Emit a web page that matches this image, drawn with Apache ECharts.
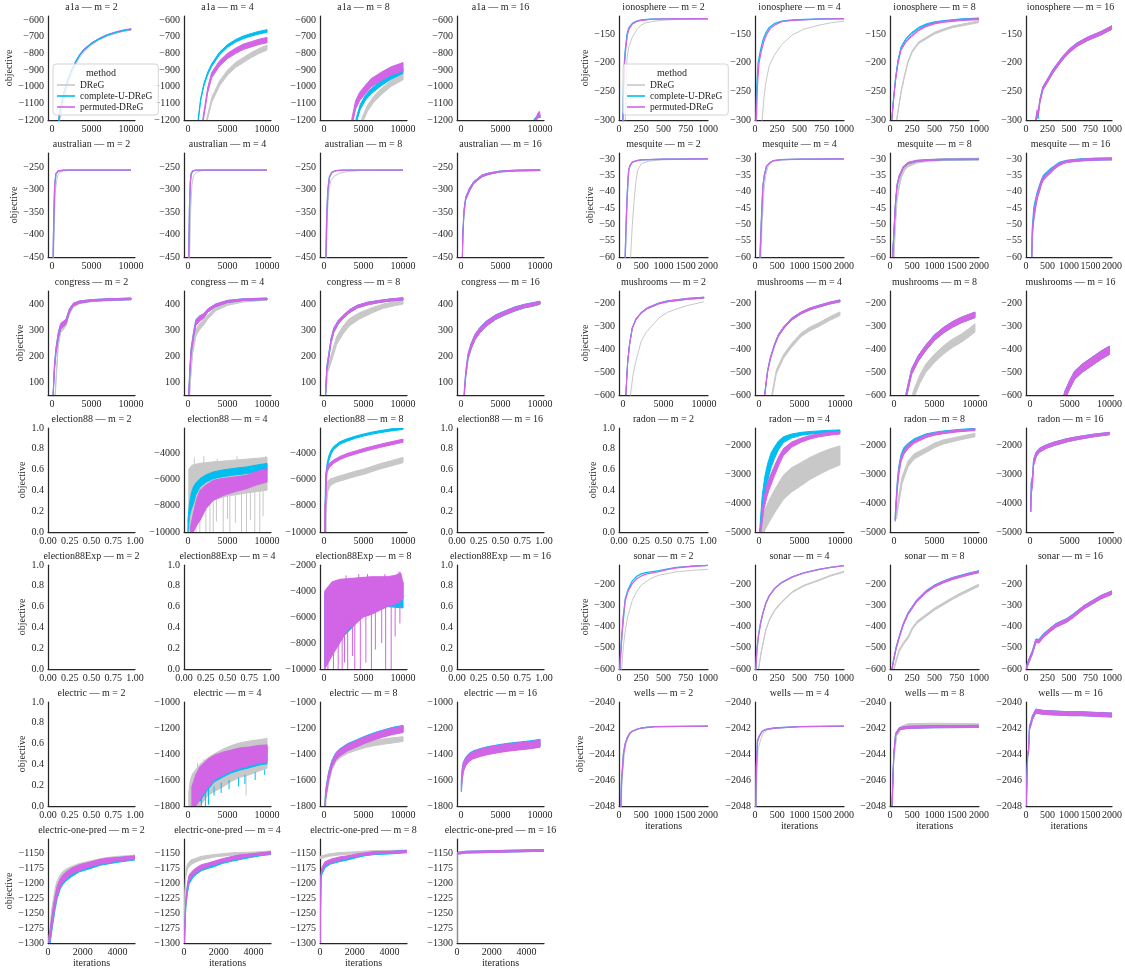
<!DOCTYPE html>
<html><head><meta charset="utf-8">
<script src="https://cdn.jsdelivr.net/npm/echarts@6/dist/echarts.min.js"></script>
<style>html,body{margin:0;padding:0;background:#fff}#c{width:1125px;height:970px}</style>
</head><body><div id="c"></div>
<script>
// ---------------- tick labels ----------------
const TX_10K = [0, 5000, 10000];
const TX_1K = [0, 250, 500, 750, 1000];
const TX_2K = [0, 500, 1000, 1500, 2000];
const TX_5K = [0, 2000, 4000];
const TX_UNIT = [0, 0.25, 0.5, 0.75, 1];
const TY_UNIT = [0, 0.2, 0.4, 0.6, 0.8, 1];
const TY_A1A = [-1200, -1100, -1000, -900, -800, -700, -600];
const TY_AUS = [-450, -400, -350, -300, -250];
const TY_CONG = [100, 200, 300, 400];
const TY_EL88 = [-10000, -8000, -6000, -4000];
const TY_EL88X = [-10000, -8000, -6000, -4000, -2000];
const TY_ELEC = [-1800, -1600, -1400, -1200, -1000];
const TY_EOP = [-1300, -1275, -1250, -1225, -1200, -1175, -1150];
const TY_ION = [-300, -250, -200, -150];
const TY_MESQ = [-60, -55, -50, -45, -40, -35, -30];
const TY_MUSH = [-600, -500, -400, -300, -200];
const TY_RADON = [-5000, -4000, -3000, -2000];
const TY_SONAR = [-600, -500, -400, -300, -200];
const TY_WELLS = [-2048, -2046, -2044, -2042, -2040];

const METHODS = ['DReG', 'complete-U-DReG', 'permuted-DReG'];
const M_VALUES = [2, 4, 8, 16];

// ---------------- series values: [iteration, objective, noise half-width] ----------------
// a1a
const a1a_2_D = [[0,-1550],[500,-1380],[1000,-1200],[1500,-1080],[2000,-990],[2500,-925],[3000,-870],[3500,-825],[4000,-795],[5000,-750],[6000,-718],[7000,-695],[8000,-678],[9000,-665],[10000,-657]];
const a1a_2_C = [[0,-1500],[500,-1330],[1000,-1150],[1500,-1040],[2000,-960],[2500,-900],[3000,-850],[3500,-810],[4000,-780],[5000,-740],[6000,-712],[7000,-690],[8000,-675],[9000,-663],[10000,-655]];
const a1a_2_P = [[0,-1500,4],[500,-1330,4],[1000,-1150,4],[1500,-1040,4],[2000,-960,4],[2500,-900,4],[3000,-850,4],[3500,-810,4],[4000,-780,4],[5000,-740,4],[6000,-712,4],[7000,-690,4],[8000,-675,4],[9000,-663,4],[10000,-655,4]];
const a1a_4_D = [[2000,-1320,12],[2400,-1200,12],[3000,-1080,14],[4000,-980,15],[5000,-915,15],[6000,-870,15],[7000,-840,15],[8000,-810,15],[9000,-785,15],[10000,-765,15]];
const a1a_4_C = [[1000,-1350,8],[1300,-1200,8],[1600,-1080,8],[2000,-990,8],[2500,-920,8],[3000,-870,8],[4000,-800,8],[5000,-755,8],[6000,-725,8],[7000,-703,8],[8000,-688,8],[9000,-675,8],[10000,-665,8]];
const a1a_4_P = [[1500,-1350,12],[1900,-1200,14],[2500,-1020,15],[3000,-930,16],[4000,-860,16],[5000,-815,16],[6000,-785,16],[7000,-760,16],[8000,-745,16],[9000,-730,16],[10000,-720,16]];
const a1a_8_D = [[4600,-1250,15],[4850,-1200,18],[5500,-1130,18],[6300,-1075,18],[7350,-1025,18],[8500,-980,18],[10000,-940,18]];
const a1a_8_C = [[3900,-1250,12],[4100,-1200,14],[4600,-1120,15],[5260,-1065,15],[6000,-1025,15],[7350,-975,15],[8500,-940,15],[10000,-905,15]];
const a1a_8_P = [[3400,-1250,20],[3600,-1200,25],[4000,-1110,25],[4500,-1060,25],[5260,-1015,25],[6000,-975,25],[7350,-935,25],[8500,-905,25],[10000,-880,25]];
const a1a_16_C = [[9000,-1230,8],[9300,-1200,8],[9600,-1185,8],[9900,-1175,8],[10000,-1180,8]];
const a1a_16_P = [[9300,-1230,12],[9500,-1200,12],[9700,-1172,12],[9900,-1160,12],[10000,-1175,10]];
// australian
const aus_2_D = [[0,-650],[200,-450],[300,-380],[450,-300],[700,-270],[1000,-262],[1500,-259],[2500,-257],[10000,-257]];
const aus_2_C = [[0,-600],[150,-450],[250,-350],[350,-290],[500,-265],[800,-259],[1500,-257],[10000,-257]];
const aus_2_P = [[0,-600],[150,-450],[250,-350],[350,-290],[500,-265],[800,-259],[1500,-257],[10000,-257]];
const aus_4_D = [[0,-700],[200,-450],[350,-340],[500,-290],[700,-270],[1000,-263],[1500,-259],[2500,-257],[10000,-257]];
const aus_4_C = [[0,-600],[100,-450],[200,-340],[300,-285],[400,-266],[600,-259],[1000,-257],[10000,-257]];
const aus_4_P = [[0,-600],[100,-450],[200,-340],[300,-285],[400,-266],[600,-259],[1000,-257],[10000,-257]];
const aus_8_D = [[200,-600],[300,-450],[450,-350],[630,-300],[900,-280],[1300,-270],[2000,-264],[3000,-260],[4500,-258],[10000,-257]];
const aus_8_C = [[100,-600],[250,-450],[350,-360],[500,-300],[700,-272],[1000,-262],[1500,-258],[2500,-257],[10000,-257]];
const aus_8_P = [[100,-600],[250,-450],[350,-360],[500,-300],[700,-272],[1000,-262],[1500,-258],[2500,-257],[10000,-257]];
const aus_16_C = [[100,-520,4],[180,-450,4],[240,-400,4],[380,-350,4],[600,-320,3],[1090,-300,3],[1600,-285,2],[2650,-270,2],[3500,-265,1.5],[5000,-260,1],[7000,-258,1],[10000,-257,1]];
const aus_16_P = [[100,-520,4],[180,-450,4],[240,-400,4],[380,-350,4],[600,-320,3],[1090,-300,3],[1600,-285,2],[2650,-270,2],[3500,-265,1.5],[5000,-260,1],[7000,-258,1],[10000,-257,1]];
// congress
const cong_2_D = [[300,0,5],[600,150,8],[800,250,10],[1100,300,10],[1500,315,10],[1800,325,8],[2200,365,6],[2700,393,5],[3500,405,4],[5000,412,3],[7000,416,3],[10000,419,3]];
const cong_2_C = [[0,-50,5],[300,150,8],[500,220,10],[800,280,10],[1100,315,10],[1500,325,10],[1800,335,8],[2200,375,6],[2700,398,5],[3500,408,4],[5000,414,3],[7000,417,3],[10000,420,3]];
const cong_2_P = [[0,-50,5],[300,150,8],[500,220,10],[800,280,10],[1100,315,10],[1500,325,10],[1800,335,8],[2200,375,6],[2700,398,5],[3500,408,4],[5000,414,3],[7000,417,3],[10000,420,3]];
const cong_4_D = [[200,50,5],[400,150,10],[600,220,12],[1000,290,12],[1500,315,12],[2000,330,10],[2500,350,8],[3500,380,6],[5000,400,5],[7000,412,4],[10000,418,3]];
const cong_4_C = [[100,50,5],[250,150,8],[400,220,10],[700,280,10],[1000,330,10],[1500,345,10],[2000,355,8],[2500,375,6],[3500,395,5],[5000,410,4],[7000,417,3],[10000,420,3]];
const cong_4_P = [[100,50,5],[250,150,8],[400,220,10],[700,280,10],[1000,330,10],[1500,345,10],[2000,355,8],[2500,375,6],[3500,395,5],[5000,410,4],[7000,417,3],[10000,420,3]];
const cong_8_D = [[200,50,5],[500,150,10],[1000,200,15],[1600,260,15],[2400,300,15],[3200,330,14],[4500,355,12],[6000,375,10],[7500,392,8],[9000,402,8],[10000,408,8]];
const cong_8_C = [[200,50,5],[350,150,8],[600,200,8],[900,260,8],[1250,300,8],[1800,330,7],[2400,350,6],[3200,372,6],[4200,390,5],[5500,402,5],[7000,410,4],[8500,416,4],[10000,420,4]];
const cong_8_P = [[200,50,5],[350,150,8],[600,200,8],[900,260,8],[1250,300,8],[1800,330,7],[2400,350,6],[3200,372,6],[4200,390,5],[5500,402,5],[7000,410,4],[8500,416,4],[10000,420,4]];
const cong_16_C = [[400,50,8],[600,130,10],[900,200,10],[1300,240,10],[1800,275,10],[2400,300,10],[3200,325,10],[4400,350,9],[5500,365,8],[6700,380,8],[8000,392,7],[9000,398,7],[10000,405,6]];
const cong_16_P = [[400,50,8],[600,130,10],[900,200,10],[1300,240,10],[1800,275,10],[2400,300,10],[3200,325,9],[4400,350,8],[5500,365,7],[6700,380,7],[8000,392,6],[9000,398,6],[10000,405,5]];
// election88
const el88_4_D = [[100,-7600,2400],[500,-7000,2100],[1500,-6400,1650],[3000,-6100,1450],[5000,-5900,1350],[7000,-5750,1300],[10000,-5550,1250]];
const el88_4_D_spikes = [[470,-7000,-10000],[1000,-7000,-10000],[1500,-7000,-10000],[2270,-7000,-10000],[2780,-7000,-10000],[3200,-7000,-10000],[3600,-7000,-9200],[4460,-7000,-10000],[5000,-7000,-9000],[5300,-7000,-10000],[6000,-7000,-9300],[6770,-7000,-10000],[7400,-7000,-10000],[7900,-7000,-9100],[8450,-6800,-10000],[9080,-6800,-10000],[9500,-6800,-8800],[800,-5500,-4300],[2000,-5000,-4200],[3700,-5000,-4400],[6200,-4800,-4200],[9800,-4700,-4200]];
const el88_4_C = [[0,-9500,500],[200,-8300,500],[400,-7700,600],[680,-7200,640],[1000,-6700,450],[1516,-6240,320],[2300,-5900,280],[3196,-5665,255],[4500,-5500,255],[6000,-5380,255],[7396,-5280,255],[8600,-5150,260],[10000,-5020,260]];
const el88_4_P = [[300,-10000,300],[680,-9300,700],[1100,-8500,1000],[1516,-7975,1150],[2300,-7300,900],[3196,-6820,770],[4500,-6550,650],[6000,-6350,560],[7396,-6180,510],[8600,-5900,515],[10000,-5665,515]];
const el88_8_D = [[250,-9000,1000],[300,-7500,500],[500,-6500,400],[800,-6200,250],[1500,-6000,200],[2900,-5750,200],[4000,-5550,200],[5000,-5400,200],[6000,-5200,200],[7000,-5000,200],[8500,-4750,200],[10000,-4500,200]];
const el88_8_C = [[150,-9000,1000],[200,-6000,300],[400,-5000,250],[600,-4400,200],[900,-3900,150],[1200,-3600,120],[2000,-3200,100],[2900,-2970,90],[4000,-2750,80],[5000,-2590,80],[6000,-2450,80],[7000,-2340,80],[8500,-2190,80],[10000,-2080,80]];
const el88_8_P = [[100,-9000,1000],[250,-7500,500],[300,-6000,400],[400,-5200,200],[700,-4900,150],[1200,-4630,130],[2000,-4350,120],[2900,-4120,120],[4000,-3920,120],[5000,-3740,120],[6000,-3580,120],[7000,-3430,120],[8500,-3220,120],[10000,-3020,120]];
// election88Exp
const el88x_8_C = [[100,-7000,2800],[2000,-5500,2300],[5000,-4500,1400],[8000,-4100,1100],[10000,-4300,1000]];
const el88x_8_P = [[100,-7000,3000],[1000,-6150,2850],[2000,-5550,2450],[3000,-5025,1975],[4000,-4750,1750],[5000,-4475,1525],[6000,-4350,1450],[7000,-4200,1300],[8000,-4050,1150],[9000,-3900,1100],[9700,-3700,1100],[10000,-4000,600]];
const el88x_8_P_spikes = [[500,-6000,-10000],[1200,-6000,-10000],[1800,-6000,-10000],[2300,-6000,-10000],[2600,-6000,-9500],[3000,-6000,-10000],[3600,-6000,-9000],[3900,-6000,-10000],[4600,-5500,-10000],[5300,-5500,-9500],[6000,-5500,-10000],[6500,-5500,-8500],[7300,-5000,-8000],[7800,-5000,-10000],[8500,-5000,-10000],[9000,-5000,-7500],[9600,-5000,-6500],[2800,-3500,-2800],[4400,-3300,-2700],[5500,-3200,-2700],[7700,-3200,-2700],[9500,-3000,-2500]];
// electric
const elec_4_D = [[100,-1750,50],[300,-1700,100],[600,-1675,125],[1500,-1640,160],[2500,-1575,145],[3300,-1545,145],[4500,-1505,145],[5500,-1472,138],[6500,-1448,133],[7800,-1430,130],[9000,-1410,120],[10000,-1395,115]];
const elec_4_D_spikes = [[1200,-1600,-1470],[2000,-1560,-1440],[700,-1700,-1580],[7350,-1550,-1720]];
const elec_4_C = [[1500,-1640,125],[2500,-1565,110],[3300,-1520,95],[4500,-1487,88],[5500,-1465,80],[6500,-1447,78],[7800,-1433,72],[9000,-1417,68],[10000,-1410,65]];
const elec_4_C_spikes = [[1700,-1650,-1800],[2200,-1650,-1800],[2600,-1650,-1790],[3300,-1650,-1720],[4200,-1620,-1700],[5200,-1600,-1670],[6400,-1580,-1650],[7200,-1560,-1630],[8500,-1540,-1600],[9700,-1520,-1560]];
const elec_4_P = [[500,-1725,75],[1000,-1680,120],[1500,-1625,125],[2500,-1550,110],[3300,-1505,95],[4500,-1472,88],[5500,-1450,80],[6500,-1432,78],[7800,-1418,72],[9000,-1402,68],[10000,-1395,65]];
const elec_8_D = [[100,-1850,30],[300,-1700,30],[600,-1600,30],[1000,-1500,25],[1500,-1440,22],[2000,-1410,20],[3000,-1375,20],[4170,-1350,20],[5300,-1330,20],[6430,-1315,20],[7500,-1305,20],[8700,-1295,20],[10000,-1285,18]];
const elec_8_C = [[100,-1850,30],[200,-1720,30],[350,-1655,30],[600,-1565,28],[1000,-1475,25],[1500,-1415,25],[2000,-1385,25],[3000,-1345,25],[4170,-1315,25],[5300,-1285,25],[6430,-1260,25],[7500,-1240,25],[8700,-1220,25],[10000,-1205,25]];
const elec_8_P = [[100,-1850,30],[200,-1720,30],[350,-1660,30],[600,-1570,28],[1000,-1480,25],[1500,-1420,25],[2000,-1390,25],[3000,-1350,25],[4170,-1320,25],[5300,-1290,25],[6430,-1265,25],[7500,-1245,25],[8700,-1225,25],[10000,-1210,25]];
const elec_16_C = [[50,-1650,40],[150,-1560,40],[300,-1500,35],[600,-1455,30],[1000,-1425,28],[1500,-1405,28],[2500,-1385,28],[3500,-1370,28],[4900,-1355,28],[6000,-1345,28],[7500,-1335,28],[9000,-1325,28],[10000,-1315,28]];
const elec_16_P = [[50,-1640,40],[150,-1560,40],[300,-1500,35],[600,-1460,30],[1000,-1430,28],[1500,-1410,28],[2500,-1390,28],[3500,-1375,28],[4900,-1360,28],[6000,-1350,28],[7500,-1340,28],[9000,-1330,28],[10000,-1320,28]];
// electric-one-pred
const eop_2_D = [[50,-1300,6],[150,-1270,8],[220,-1250,8],[320,-1232,8],[420,-1215,8],[525,-1203,7],[700,-1192,6],[830,-1187,6],[1000,-1183,6],[1345,-1177,5],[1800,-1172,5],[2370,-1167,4],[3000,-1163,4],[3400,-1161,4],[4000,-1159,4],[5000,-1156,3]];
const eop_2_C = [[50,-1310,8],[150,-1285,10],[220,-1270,10],[320,-1250,10],[420,-1233,9],[525,-1218,8],[700,-1203,7],[830,-1196,7],[1000,-1191,6],[1345,-1183,6],[1800,-1176,5],[2370,-1171,5],[3000,-1166,4],[3400,-1164,4],[4000,-1161,4],[5000,-1158,3]];
const eop_2_P = [[50,-1300,8],[150,-1280,9],[220,-1265,9],[320,-1245,9],[420,-1228,8],[525,-1213,8],[700,-1200,7],[830,-1193,6],[1000,-1188,6],[1345,-1180,5],[1800,-1174,5],[2370,-1169,4],[3000,-1164,4],[3400,-1162,4],[4000,-1160,3],[5000,-1157,3]];
const eop_4_D = [[10,-1300,3],[50,-1220,5],[100,-1185,5],[200,-1172,4],[400,-1165,4],[713,-1161,3],[1000,-1158,3],[1750,-1154,2],[2800,-1151,2],[3816,-1150,2],[5000,-1148,2]];
const eop_4_C = [[20,-1310,4],[60,-1265,6],[100,-1237,6],[200,-1210,6],[300,-1195,6],[500,-1186,5],[713,-1180,5],[1000,-1175,4],[1400,-1171,4],[1750,-1168,4],[2200,-1164,3],[2780,-1160,3],[3300,-1157,3],[3816,-1154,3],[4400,-1152,2],[5000,-1150,2]];
const eop_4_P = [[20,-1300,4],[60,-1260,5],[100,-1232,5],[200,-1205,5],[300,-1191,5],[500,-1183,4],[713,-1178,4],[1000,-1173,4],[1400,-1169,3],[1750,-1166,3],[2200,-1162,3],[2780,-1158,3],[3300,-1155,3],[3816,-1153,2],[4400,-1151,2],[5000,-1149,2]];
const eop_8_D = [[0,-1157,2],[500,-1153,2],[1000,-1151,2],[2000,-1149,1.5],[3000,-1147,1.5],[5000,-1146,1.5]];
const eop_8_C = [[0,-1320,1],[50,-1195,4],[100,-1182,4],[287,-1170,4],[600,-1165,3],[1110,-1161,3],[1600,-1158,3],[2126,-1155,2],[2600,-1152,2],[3160,-1150,2],[4000,-1149,2],[5000,-1147,2]];
const eop_8_P = [[0,-1320,1],[50,-1190,4],[100,-1178,4],[287,-1167,3],[600,-1163,3],[1110,-1159,3],[1600,-1156,2],[2126,-1153,2],[2600,-1151,2],[3160,-1149,2],[4000,-1148,1.5],[5000,-1147,1.5]];
const eop_16_C = [[0,-1320,1],[20,-1150,1.5],[500,-1148,1.5],[2000,-1147,1.5],[5000,-1145,1.5]];
const eop_16_P = [[0,-1320,1],[20,-1150,1.5],[500,-1148,1.5],[2000,-1147,1.5],[5000,-1145,1.5]];
// ionosphere
const ion_2_D = [[0,-520],[50,-380],[70,-300],[80,-240],[90,-193],[110,-172],[150,-155],[200,-142],[247,-134],[300,-130],[400,-127],[450,-126],[650,-124],[1000,-123]];
const ion_2_C = [[0,-420],[30,-330],[42,-300],[50,-240],[60,-200],[70,-178],[90,-150],[110,-139],[150,-131],[200,-127],[250,-125],[350,-123.5],[500,-123],[1000,-122.7]];
const ion_2_P = [[0,-430],[32,-330],[45,-300],[53,-240],[63,-200],[74,-178],[95,-150],[115,-140],[150,-132],[200,-127.5],[250,-125.5],[350,-123.8],[500,-123.2],[1000,-122.8]];
const ion_4_D = [[50,-380],[80,-300],[100,-262],[120,-236],[160,-205],[220,-186],[300,-168],[420,-151],[550,-141],[719,-134],[850,-130],[1000,-127]];
const ion_4_C = [[0,-400],[10,-300],[20,-240],[35,-200],[61,-178],[90,-160],[120,-148],[160,-138],[220,-131],[300,-127],[420,-125],[720,-123],[1000,-122.5]];
const ion_4_P = [[0,-420],[15,-300],[27,-240],[45,-200],[70,-180],[100,-162],[130,-150],[170,-140],[230,-133],[300,-128],[420,-125.5],[720,-123.3],[1000,-122.8]];
const ion_8_D = [[60,-320,1.5],[75,-300,1.5],[100,-275,1.5],[124,-251,1.5],[160,-225,1.5],[203,-198,1.5],[250,-180,1.5],[320,-165,1.5],[404,-157,1.5],[500,-148,1.5],[604,-142,1.5],[700,-137,1.5],[803,-134,1.5],[900,-131,1.5],[1000,-128,1.5]];
const ion_8_C = [[0,-380,1],[20,-300,1],[40,-262,1],[63,-226,1],[90,-196,1],[124,-173,1],[180,-158,1],[243,-148,1],[320,-139,1],[404,-133,1],[500,-129,1],[604,-127,1],[800,-124,1],[1000,-122.5,1]];
const ion_8_P = [[0,-380,1],[20,-300,1],[40,-265,1],[63,-230,1],[90,-200,1],[124,-177,1],[180,-163,1],[243,-153,1],[320,-143,1],[404,-136,1],[500,-131,1],[604,-128,1],[800,-125,1],[1000,-123.5,1]];
const ion_16_C = [[100,-320,3],[115,-300,3],[130,-288,3],[140,-295,3],[160,-268,3],[195,-245,3],[254,-230,3],[314,-214,3],[374,-202,3],[435,-190,3],[515,-177,3],[594,-168,3],[715,-158,3],[874,-148,3],[1000,-138,3]];
const ion_16_P = [[100,-320,3],[115,-300,3],[130,-285,3],[140,-290,3],[160,-268,3],[195,-245,3],[254,-230,3],[314,-215,3],[374,-202,3],[435,-190,3],[515,-178,3],[594,-168,3],[715,-158,3],[874,-148,3],[1000,-138,3]];
// mesquite
const mesq_2_D = [[200,-75],[260,-60],[300,-50],[337,-43],[380,-37],[418,-33.5],[500,-31.5],[659,-30.7],[978,-30.3],[1500,-30.1],[2000,-30]];
const mesq_2_C = [[100,-75],[139,-60],[160,-50],[180,-42.6],[200,-37],[218,-33.4],[250,-32],[299,-31],[400,-30.5],[500,-30.3],[1000,-30.1],[2000,-30]];
const mesq_2_P = [[100,-75],[139,-60],[160,-50],[180,-42.6],[200,-37],[218,-33.4],[250,-32],[299,-31],[400,-30.5],[500,-30.3],[1000,-30.1],[2000,-30]];
const mesq_4_D = [[100,-75],[130,-60],[160,-50],[200,-40],[240,-35],[300,-32],[400,-30.8],[600,-30.3],[1000,-30.2],[2000,-30.1]];
const mesq_4_C = [[80,-75],[112,-60],[140,-50],[177,-38.4],[210,-35],[258,-32.3],[330,-31.2],[418,-30.5],[600,-30.2],[1000,-30.1],[2000,-30]];
const mesq_4_P = [[80,-75],[112,-60],[140,-50],[177,-38.4],[210,-35],[258,-32.3],[330,-31.2],[418,-30.5],[600,-30.2],[1000,-30.1],[2000,-30]];
const mesq_8_D = [[60,-75,0.5],[90,-60,0.5],[120,-50,0.8],[160,-42,0.8],[207,-38,0.8],[260,-35,0.6],[330,-33,0.5],[407,-32,0.4],[600,-31,0.3],[807,-30.5,0.3],[1200,-30.2,0.3],[2000,-30.1,0.3]];
const mesq_8_C = [[40,-75,0.3],[60,-60,0.3],[85,-53,0.3],[126,-43,0.3],[160,-38,0.3],[207,-35.4,0.3],[300,-32.5,0.2],[407,-31.3,0.2],[600,-30.6,0.15],[807,-30.4,0.15],[1200,-30.2,0.1],[2000,-30.1,0.1]];
const mesq_8_P = [[40,-75,0.3],[60,-60,0.3],[85,-53,0.3],[126,-43,0.3],[160,-38,0.3],[207,-35.4,0.3],[300,-32.5,0.2],[407,-31.3,0.2],[600,-30.6,0.15],[807,-30.4,0.15],[1200,-30.2,0.1],[2000,-30.1,0.1]];
const mesq_16_C = [[100,-75,1],[135,-60,1],[146,-52,1.2],[180,-46,1.2],[225,-43,1],[270,-40.5,0.8],[320,-38.5,0.8],[360,-37,0.7],[405,-35.5,0.6],[480,-34.5,0.5],[560,-33.5,0.5],[660,-32.5,0.4],[760,-31.5,0.4],[860,-31,0.3],[960,-30.7,0.3],[1160,-30.4,0.3],[1360,-30.2,0.3],[1600,-30.1,0.3],[2000,-30,0.3]];
const mesq_16_P = [[100,-75,1],[135,-60,1],[146,-53,1.2],[180,-48,1.2],[225,-44,1],[270,-41,0.8],[320,-39,0.8],[360,-37,0.7],[405,-36,0.6],[480,-35,0.5],[560,-34,0.5],[660,-32.8,0.4],[760,-31.8,0.4],[860,-31.2,0.3],[960,-30.8,0.3],[1160,-30.5,0.3],[1360,-30.3,0.3],[1600,-30.1,0.3],[2000,-30,0.3]];
// mushrooms
const mush_2_D = [[700,-680],[921,-600],[1200,-520],[1576,-454],[2244,-366],[2800,-330],[3344,-308],[4444,-264],[5500,-240],[6644,-225],[8000,-210],[10000,-194]];
const mush_2_C = [[250,-650,2],[353,-600,2],[450,-530,2],[575,-455,2],[800,-380,2],[1144,-308,2],[1600,-270,2],[2244,-242,2],[3000,-222,2],[4444,-201,2],[5500,-192,2],[6644,-187,2],[8000,-181,2],[10000,-176,2]];
const mush_2_P = [[250,-650,2],[353,-600,2],[450,-530,2],[575,-455,2],[800,-380,2],[1144,-308,2],[1600,-270,2],[2244,-242,2],[3000,-222,2],[4444,-201,2],[5500,-192,2],[6644,-187,2],[8000,-181,2],[10000,-176,2]];
const mush_4_D = [[1400,-650,8],[1614,-600,8],[2145,-498,8],[3023,-432,8],[4000,-385,8],[5223,-337,8],[6300,-312,8],[7423,-293,8],[8700,-268,8],[10000,-246,8]];
const mush_4_C = [[500,-680,4],[699,-600,4],[1045,-498,4],[1400,-440,4],[1923,-381,4],[2400,-340,4],[3023,-308,4],[4000,-270,4],[5223,-242,4],[6300,-225,4],[7423,-213,4],[8700,-200,4],[10000,-190,4]];
const mush_4_P = [[500,-680,4],[699,-600,4],[1045,-498,4],[1400,-440,4],[1923,-381,4],[2400,-340,4],[3023,-308,4],[4000,-270,4],[5223,-242,4],[6300,-225,4],[7423,-213,4],[8700,-200,4],[10000,-190,4]];
const mush_8_D = [[2100,-650,18],[2392,-600,18],[3200,-530,18],[3937,-483,18],[5000,-440,18],[6137,-403,18],[7200,-375,18],[8337,-352,18],[9200,-330,18],[10000,-308,18]];
const mush_8_C = [[1300,-650,12],[1515,-600,12],[2170,-498,12],[3000,-440,12],[3937,-394,12],[5000,-350,12],[6137,-317,12],[7200,-293,12],[8337,-273,12],[10000,-251,12]];
const mush_8_P = [[1300,-650,12],[1515,-600,12],[2170,-498,12],[3000,-440,12],[3937,-394,12],[5000,-350,12],[6137,-317,12],[7200,-293,12],[8337,-273,12],[10000,-251,12]];
const mush_16_C = [[4000,-650,18],[4407,-600,18],[5000,-555,18],[5593,-515,18],[6500,-485,18],[7793,-454,18],[9000,-425,18],[10000,-405,18]];
const mush_16_P = [[4000,-650,18],[4407,-600,18],[5000,-555,18],[5593,-515,18],[6500,-485,18],[7793,-454,18],[9000,-425,18],[10000,-405,18]];
// radon
const rad_4_D = [[300,-5200,300],[700,-4600,350],[1267,-4270,380],[2000,-3900,400],[3023,-3450,420],[4000,-3200,420],[5223,-2990,400],[6300,-2800,380],[7423,-2640,370],[8700,-2480,350],[10000,-2350,330]];
const rad_4_C = [[0,-5200,100],[100,-5000,150],[390,-4000,250],[700,-3400,300],[1045,-2950,300],[1500,-2500,250],[1923,-2250,200],[2400,-2000,150],[3023,-1800,100],[4000,-1680,70],[5223,-1600,50],[6300,-1565,45],[7423,-1540,40],[8700,-1520,40],[10000,-1505,40]];
const rad_4_P = [[100,-5200,100],[170,-5000,150],[612,-4000,200],[1000,-3550,200],[1267,-3330,190],[1923,-2870,170],[2500,-2500,150],[3023,-2230,120],[4000,-1980,90],[5223,-1820,70],[6300,-1720,60],[7423,-1650,55],[8700,-1600,50],[10000,-1565,45]];
const rad_8_D = [[300,-4400,150],[637,-3800,150],[1000,-3200,120],[1737,-2640,100],[2500,-2380,90],[3937,-2170,80],[5000,-2000,80],[6137,-1880,70],[8000,-1760,60],[10000,-1645,60]];
const rad_8_C = [[150,-4500,80],[200,-4200,100],[415,-3300,120],[600,-2800,100],[860,-2400,80],[1200,-2150,70],[1737,-1990,60],[2500,-1820,50],[3937,-1645,40],[5000,-1580,35],[6137,-1530,30],[8000,-1480,30],[10000,-1440,30]];
const rad_8_P = [[150,-4550,80],[200,-4300,100],[415,-3400,120],[600,-2900,100],[860,-2500,80],[1200,-2250,70],[1737,-2050,60],[2500,-1880,50],[3937,-1690,45],[5000,-1610,40],[6137,-1560,35],[8000,-1500,30],[10000,-1460,30]];
const rad_16_C = [[100,-4250,50],[150,-3500,200],[316,-3220,150],[450,-2600,100],[538,-2520,100],[800,-2300,80],[1193,-2170,70],[2000,-2050,60],[3000,-1950,60],[4716,-1820,55],[6000,-1750,50],[8000,-1660,45],[10000,-1590,40]];
const rad_16_P = [[100,-4250,50],[150,-3500,200],[316,-3220,150],[450,-2600,100],[538,-2520,100],[800,-2300,80],[1193,-2170,70],[2000,-2050,60],[3000,-1950,60],[4716,-1820,55],[6000,-1750,50],[8000,-1660,45],[10000,-1590,40]];
// sonar
const son_2_D = [[10,-700],[29,-600],[50,-490],[70,-420],[100,-350],[149,-277],[200,-235],[249,-205],[350,-175],[449,-158],[550,-150],[649,-142],[800,-136],[1000,-130]];
const son_2_C = [[0,-700],[9,-600],[29,-460],[70,-270],[100,-228],[149,-185],[200,-163],[249,-152],[300,-146],[449,-136],[550,-128],[649,-121],[800,-116],[1000,-112]];
const son_2_P = [[0,-700],[9,-600],[20,-520],[29,-467],[45,-360],[70,-277],[100,-235],[149,-198],[200,-175],[249,-162],[300,-153],[449,-141],[550,-131],[649,-123],[800,-117],[1000,-112]];
const son_4_D = [[20,-700,2],[40,-600,2],[70,-520,2],[120,-419,2],[160,-370,2],[220,-324,2],[300,-285,2],[420,-237,2],[550,-207,2],[720,-181,2],[850,-160,2],[1000,-142,2]];
const son_4_C = [[0,-720],[10,-600],[20,-514],[40,-440],[61,-387],[90,-335],[120,-292],[160,-255],[220,-221],[300,-193],[420,-166],[550,-147],[720,-131],[850,-121],[1000,-113]];
const son_4_P = [[0,-720],[10,-600],[20,-514],[40,-440],[61,-387],[90,-335],[120,-292],[160,-255],[220,-221],[300,-193],[420,-166],[550,-147],[720,-131],[850,-121],[1000,-113]];
const son_8_D = [[30,-650,5],[43,-600,5],[70,-560,5],[103,-514,5],[150,-480,5],[203,-451,5],[250,-410,5],[303,-380,5],[350,-365,5],[404,-348,5],[500,-318,5],[604,-292,5],[700,-268,5],[803,-245,5],[900,-225,5],[1000,-205,5]];
const son_8_C = [[10,-640,4],[22,-600,4],[43,-552,4],[70,-498,4],[103,-449,4],[150,-388,4],[203,-338,4],[300,-278,4],[404,-235,4],[500,-208,4],[604,-188,4],[700,-173,4],[803,-161,4],[900,-150,4],[1000,-141,4]];
const son_8_P = [[10,-640,4],[22,-600,4],[43,-554,4],[70,-500,4],[103,-451,4],[150,-390,4],[203,-340,4],[300,-280,4],[404,-237,4],[500,-210,4],[604,-190,4],[700,-175,4],[803,-163,4],[900,-152,4],[1000,-142,4]];
const son_16_C = [[0,-610,8],[15,-581,8],[50,-545,8],[74,-522,8],[115,-467,8],[150,-468,8],[200,-443,8],[274,-417,8],[350,-393,8],[474,-370,8],[550,-348,8],[674,-309,8],[774,-285,8],[874,-261,8],[1000,-240,8]];
const son_16_P = [[0,-610,8],[15,-581,8],[50,-545,8],[74,-522,8],[115,-467,8],[150,-470,8],[200,-445,8],[274,-419,8],[350,-395,8],[474,-372,8],[550,-350,8],[674,-309,8],[774,-285,8],[874,-261,8],[1000,-240,8]];
// wells
const wel_2_D = [[0,-2052],[50,-2048],[70,-2046],[95,-2045],[120,-2044],[160,-2043.2],[200,-2042.8],[260,-2042.4],[320,-2042.2],[450,-2042.05],[600,-2041.95],[1000,-2041.9],[2000,-2041.86]];
const wel_2_C = [[0,-2052],[40,-2048],[58,-2046],[80,-2045],[99,-2044],[140,-2043.2],[180,-2042.8],[240,-2042.4],[299,-2042.25],[400,-2042.1],[499,-2042],[800,-2041.9],[2000,-2041.86]];
const wel_2_P = [[0,-2052],[40,-2048],[58,-2046],[80,-2045],[99,-2044],[140,-2043.2],[180,-2042.8],[240,-2042.4],[299,-2042.25],[400,-2042.1],[499,-2042],[800,-2041.9],[2000,-2041.86]];
const wel_4_D = [[0,-2052],[25,-2048],[40,-2046],[70,-2043.6],[120,-2043],[180,-2042.4],[300,-2042.1],[500,-2042],[1000,-2041.9],[2000,-2041.85]];
const wel_4_C = [[0,-2052],[18,-2048],[30,-2045],[56,-2043],[100,-2042.6],[162,-2042.25],[250,-2042.1],[441,-2042],[1000,-2041.9],[2000,-2041.85]];
const wel_4_P = [[0,-2052],[18,-2048],[30,-2045],[56,-2043],[100,-2042.6],[162,-2042.25],[250,-2042.1],[441,-2042],[1000,-2041.9],[2000,-2041.85]];
const wel_8_D = [[30,-2052,0.1],[55,-2048,0.1],[75,-2045,0.1],[100,-2044,0.1],[150,-2042.5,0.12],[250,-2042,0.12],[400,-2041.8,0.12],[1000,-2041.75,0.12],[2000,-2041.8,0.12]];
const wel_8_C = [[20,-2052,0.08],[45,-2048,0.08],[65,-2046,0.08],[85,-2044,0.08],[126,-2042.5,0.08],[207,-2042.05,0.08],[400,-2041.95,0.08],[1000,-2041.9,0.08],[2000,-2041.88,0.08]];
const wel_8_P = [[20,-2052,0.08],[45,-2048,0.08],[65,-2046,0.08],[85,-2044,0.08],[126,-2042.5,0.08],[207,-2042.05,0.08],[400,-2041.95,0.08],[1000,-2041.9,0.08],[2000,-2041.88,0.08]];
const wel_16_C = [[0,-2049,0.15],[20,-2046,0.15],[40,-2044,0.15],[60,-2043.8,0.15],[80,-2042,0.15],[110,-2041.7,0.15],[150,-2041.2,0.15],[229,-2040.7,0.15],[400,-2040.8,0.15],[700,-2040.85,0.15],[1000,-2040.9,0.15],[1300,-2040.9,0.15],[1600,-2040.95,0.15],[2000,-2041.0,0.15]];
const wel_16_P = [[0,-2049,0.15],[20,-2046,0.15],[40,-2044,0.15],[60,-2043.8,0.15],[80,-2042,0.15],[110,-2041.7,0.15],[150,-2041.2,0.15],[229,-2040.7,0.15],[400,-2040.8,0.15],[700,-2040.85,0.15],[1000,-2040.9,0.15],[1300,-2040.9,0.15],[1600,-2040.95,0.15],[2000,-2041.0,0.15]];

// ---------------- figure structure ----------------
const ROWS = [
  {block:'L', row:0, name:'a1a', xr:[-500,10500], xt:TX_10K, yr:[-1200,-575], yt:TY_A1A, gap:26,
   p:{2:{D:a1a_2_D,C:a1a_2_C,P:a1a_2_P}, 4:{D:a1a_4_D,C:a1a_4_C,P:a1a_4_P}, 8:{D:a1a_8_D,C:a1a_8_C,P:a1a_8_P}, 16:{C:a1a_16_C,P:a1a_16_P}}},
  {block:'L', row:1, name:'australian', xr:[-500,10500], xt:TX_10K, yr:[-450,-219], yt:TY_AUS, gap:19,
   p:{2:{D:aus_2_D,C:aus_2_C,P:aus_2_P}, 4:{D:aus_4_D,C:aus_4_C,P:aus_4_P}, 8:{D:aus_8_D,C:aus_8_C,P:aus_8_P}, 16:{C:aus_16_C,P:aus_16_P}}},
  {block:'L', row:2, name:'congress', xr:[-500,10500], xt:TX_10K, yr:[52,450], yt:TY_CONG, gap:15,
   p:{2:{D:cong_2_D,C:cong_2_C,P:cong_2_P}, 4:{D:cong_4_D,C:cong_4_C,P:cong_4_P}, 8:{D:cong_8_D,C:cong_8_C,P:cong_8_P}, 16:{C:cong_16_C,P:cong_16_P}}},
  {block:'L', row:3, name:'election88', xr:[-500,10500], xt:TX_10K, yr:[-10000,-2050], yt:TY_EL88, gap:15,
   p:{2:null, 4:{D:el88_4_D,Dspk:el88_4_D_spikes,C:el88_4_C,P:el88_4_P}, 8:{D:el88_8_D,C:el88_8_C,P:el88_8_P}, 16:null}},
  {block:'L', row:4, name:'election88Exp', xr:[-500,10500], xt:TX_10K, yr:[-10000,-2000], yt:TY_EL88X, gap:15,
   p:{2:null, 4:null, 8:{C:el88x_8_C,P:el88x_8_P,Pspk:el88x_8_P_spikes}, 16:null}},
  {block:'L', row:5, name:'electric', xr:[-500,10500], xt:TX_10K, yr:[-1800,-1000], yt:TY_ELEC, gap:15,
   p:{2:null, 4:{D:elec_4_D,Dspk:elec_4_D_spikes,C:elec_4_C,Cspk:elec_4_C_spikes,P:elec_4_P}, 8:{D:elec_8_D,C:elec_8_C,P:elec_8_P}, 16:{C:elec_16_C,P:elec_16_P}}},
  {block:'L', row:6, name:'electric-one-pred', xr:[0,5000], xt:TX_5K, yr:[-1300,-1126], yt:TY_EOP, gap:26, xname:true, xgap:14,
   p:{2:{D:eop_2_D,C:eop_2_C,P:eop_2_P}, 4:{D:eop_4_D,C:eop_4_C,P:eop_4_P}, 8:{D:eop_8_D,C:eop_8_C,P:eop_8_P}, 16:{C:eop_16_C,P:eop_16_P}}},
  {block:'R', row:0, name:'ionosphere', xr:[0,1000], xt:TX_1K, yr:[-300,-118], yt:TY_ION, gap:27,
   p:{2:{D:ion_2_D,C:ion_2_C,P:ion_2_P}, 4:{D:ion_4_D,C:ion_4_C,P:ion_4_P}, 8:{D:ion_8_D,C:ion_8_C,P:ion_8_P}, 16:{C:ion_16_C,P:ion_16_P}}},
  {block:'R', row:1, name:'mesquite', xr:[0,2000], xt:TX_2K, yr:[-60,-28.2], yt:TY_MESQ, gap:20,
   p:{2:{D:mesq_2_D,C:mesq_2_C,P:mesq_2_P}, 4:{D:mesq_4_D,C:mesq_4_C,P:mesq_4_P}, 8:{D:mesq_8_D,C:mesq_8_C,P:mesq_8_P}, 16:{C:mesq_16_C,P:mesq_16_P}}},
  {block:'R', row:2, name:'mushrooms', xr:[-500,10500], xt:TX_10K, yr:[-600,-147], yt:TY_MUSH, gap:24,
   p:{2:{D:mush_2_D,C:mush_2_C,P:mush_2_P}, 4:{D:mush_4_D,C:mush_4_C,P:mush_4_P}, 8:{D:mush_8_D,C:mush_8_C,P:mush_8_P}, 16:{C:mush_16_C,P:mush_16_P}}},
  {block:'R', row:3, name:'radon', xr:[-500,10500], xt:TX_10K, yr:[-5000,-1400], yt:TY_RADON, gap:15,
   p:{2:null, 4:{D:rad_4_D,C:rad_4_C,P:rad_4_P}, 8:{D:rad_8_D,C:rad_8_C,P:rad_8_P}, 16:{C:rad_16_C,P:rad_16_P}}},
  {block:'R', row:4, name:'sonar', xr:[0,1000], xt:TX_1K, yr:[-600,-110], yt:TY_SONAR, gap:24,
   p:{2:{D:son_2_D,C:son_2_C,P:son_2_P}, 4:{D:son_4_D,C:son_4_C,P:son_4_P}, 8:{D:son_8_D,C:son_8_C,P:son_8_P}, 16:{C:son_16_C,P:son_16_P}}},
  {block:'R', row:5, name:'wells', xr:[0,2000], xt:TX_2K, yr:[-2048,-2040], yt:TY_WELLS, gap:27, xname:true, xgap:12,
   p:{2:{D:wel_2_D,C:wel_2_C,P:wel_2_P}, 4:{D:wel_4_D,C:wel_4_C,P:wel_4_P}, 8:{D:wel_8_D,C:wel_8_C,P:wel_8_P}, 16:{C:wel_16_C,P:wel_16_P}}}
];

// ---------------- layout & style ----------------
const FONT = '"Liberation Serif", "DejaVu Serif", serif';
const INK = '#262626';
const COLORS = {D:'#c8c8c8', C:'#00bef0', P:'#d264e6'};
const NAMES = {D:'DReG', C:'complete-U-DReG', P:'permuted-DReG'};
const COLX = {L:[48,184,320,457], R:[619,755,890,1026]};
const COLW = {L:87, R:89};
const ROWY = [16,153,291,428,565,702,839];
const ROWH = 104;

function decimalsOf(arr){ let d=0; arr.forEach(t=>{ const s=String(t).split('.')[1]; if(s) d=Math.max(d,s.length); }); return d; }
function fmt(v, dec){ const s = dec ? Number(v).toFixed(dec) : String(Math.round(v)); return s.replace('-', '\u2212'); }

const grids=[], xAxes=[], yAxes=[], series=[], titles=[];

function addSeries(gi, pts, key){
  const color = COLORS[key], name = NAMES[key];
  const band = pts.some(p => p.length > 2 && p[2] > 0);
  if (!band){
    series.push({type:'line', name, xAxisIndex:gi, yAxisIndex:gi, symbol:'none', silent:true, animation:false,
      itemStyle:{color}, data: pts.map(p=>[p[0],p[1]]), lineStyle:{color, width: key==='D'?1:1.3}});
    return;
  }
  // noisy trace: band between lower and upper envelope, drawn through the axes' scales
  const rows = pts.map(p => [p[0], p[1]-(p[2]||0), p[1]+(p[2]||0)]);
  series.push({type:'custom', name, xAxisIndex:gi, yAxisIndex:gi, silent:true, animation:false, clip:true,
    itemStyle:{color}, data: rows, encode:{x:0, y:[1,2]},
    renderItem: (params, api) => {
      if (params.dataIndex !== 0) return null;
      const up = rows.map(r => api.coord([r[0], r[2]]));
      const lo = rows.map(r => api.coord([r[0], r[1]])).reverse();
      return {type:'polygon', shape:{points: up.concat(lo)}, style:{fill:color, stroke:color, lineWidth:1, lineJoin:'round'}};
    }});
}
function addSpikes(gi, spk, key){
  const color = COLORS[key];
  series.push({type:'custom', name:NAMES[key], xAxisIndex:gi, yAxisIndex:gi, silent:true, animation:false, clip:true,
    itemStyle:{color}, data: spk, encode:{x:0, y:[1,2]},
    renderItem: (params, api) => {
      const a = api.coord([api.value(0), api.value(1)]);
      const b = api.coord([api.value(0), api.value(2)]);
      return {type:'line', shape:{x1:a[0], y1:a[1], x2:b[0], y2:b[1]}, style:{stroke:color, lineWidth:1}};
    }});
}

ROWS.forEach(r => {
  M_VALUES.forEach((m, ci) => {
    const gi = grids.length;
    const left = COLX[r.block][ci], w = COLW[r.block], top = ROWY[r.row];
    grids.push({left, top, width:w, height:ROWH});
    const pd = r.p[m];
    const empty = !pd;
    const xr = empty ? [0,1] : r.xr, yr = empty ? [0,1] : r.yr;
    const xt = empty ? TX_UNIT : r.xt, yt = empty ? TY_UNIT : r.yt;
    const xd = decimalsOf(xt), yd = decimalsOf(yt);
    const axisLine = {show:true, onZero:false, lineStyle:{color:INK, width:1.25}};
    xAxes.push({type:'value', gridIndex:gi, min:xr[0], max:xr[1], axisLine, axisTick:{show:false}, splitLine:{show:false},
      axisLabel:{customValues:xt, formatter:v=>fmt(v,xd), fontFamily:FONT, fontSize:10, color:INK, margin:4},
      name: r.xname ? 'iterations' : '', nameLocation:'middle', nameGap: r.xgap || 14,
      nameTextStyle:{fontFamily:FONT, fontSize:10, color:INK}});
    yAxes.push({type:'value', gridIndex:gi, min:yr[0], max:yr[1], axisLine, axisTick:{show:false}, splitLine:{show:false},
      axisLabel:{customValues:yt, formatter:v=>fmt(v,yd), fontFamily:FONT, fontSize:10, color:INK, margin:4},
      name: ci===0 ? 'objective' : '', nameLocation:'middle', nameRotate:90, nameGap: r.gap,
      nameTextStyle:{fontFamily:FONT, fontSize:10, color:INK}});
    titles.push({text: r.name + ' \u2014 m = ' + m, left: left + w/2, top: top - 14, textAlign:'center', padding:0,
      textStyle:{fontFamily:FONT, fontSize:10, fontWeight:'normal', color:INK}});
    if (pd){
      ['D','C','P'].forEach(k => {
        if (pd[k]) addSeries(gi, pd[k], k);
        if (pd[k+'spk']) addSpikes(gi, pd[k+'spk'], k);
      });
    }
  });
});

const legendCommon = {orient:'vertical', top:64, data:METHODS, selectedMode:false,
  icon:'rect', itemWidth:18, itemHeight:1.6, itemGap:1,
  padding:[16,6,3,4], backgroundColor:'rgba(255,255,255,0.8)', borderColor:'#d4d4d4', borderWidth:1, borderRadius:3,
  textStyle:{fontFamily:FONT, fontSize:9.5, color:INK, lineHeight:10}};

const chart = echarts.init(document.getElementById('c'), null, {renderer:'canvas'});
chart.setOption({
  backgroundColor:'#fff',
  animation:false,
  title: titles,
  grid: grids, xAxis: xAxes, yAxis: yAxes, series,
  legend: [Object.assign({left:53}, legendCommon), Object.assign({left:623}, legendCommon)],
  graphic: [
    {type:'text', x:101, y:73, z:100, style:{text:'method', fontFamily:FONT, fontSize:10, fill:INK, align:'center', verticalAlign:'middle', textAlign:'center', textVerticalAlign:'middle'}},
    {type:'text', x:672, y:73, z:100, style:{text:'method', fontFamily:FONT, fontSize:10, fill:INK, align:'center', verticalAlign:'middle', textAlign:'center', textVerticalAlign:'middle'}}
  ]
});
</script></body></html>
